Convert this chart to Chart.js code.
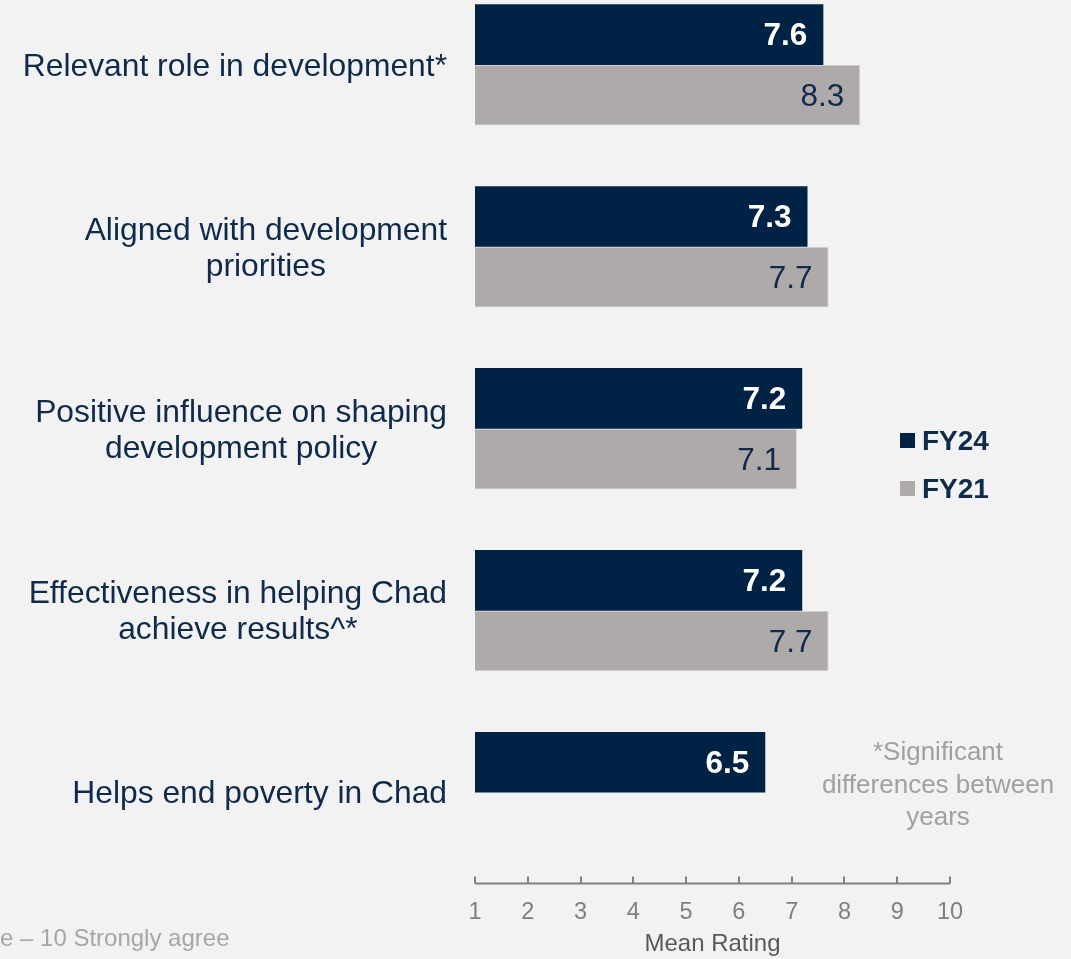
<!DOCTYPE html>
<html>
<head>
<meta charset="utf-8">
<script src="https://cdn.jsdelivr.net/npm/chart.js@4.4.0/dist/chart.umd.min.js"></script>
<style>
  html, body { margin: 0; padding: 0; background: #f2f2f2; overflow: hidden; }
  /* chart area starts above the visible page, as in the original slide crop */
  #wrap { position: absolute; left: 0; top: -26px; width: 1071px; height: 985px; }
</style>
</head>
<body>
<div id="wrap"><canvas id="chart"></canvas></div>
<script>
const categories = [
    ['Relevant role in development*'],
    ['Aligned with development', 'priorities'],
    ['Positive influence on shaping', 'development policy'],
    ['Effectiveness in helping Chad', 'achieve results^*'],
    ['Helps end poverty in Chad']
];
const seriesNames = ['FY24', 'FY21'];
const fy24 = [7.6, 7.3, 7.2, 7.2, 6.5];
const fy21 = [8.3, 7.7, 7.1, 7.7, null];
const xTicks = [1, 2, 3, 4, 5, 6, 7, 8, 9, 10];
const noteLines = ['*Significant', 'differences between', 'years'];
const footerText = 'e \u2013 10 Strongly agree';

const NAVY = '#002244';
const GREY = '#aeaaaa';
const TEXT_NAVY = '#0f2a4a';
const FONT = '"Liberation Sans", Arial, sans-serif';
const OFFSET = 26; // canvas is shifted up by this much

const overlay = {
    id: 'overlay',
    afterDatasetsDraw(chart) {
        const ctx = chart.ctx;
        const x = chart.scales.x;
        const y = chart.scales.y;
        const area = chart.chartArea;
        ctx.save();

        // value labels inside the bars
        chart.data.datasets.forEach((ds, i) => {
            const meta = chart.getDatasetMeta(i);
            meta.data.forEach((bar, j) => {
                if (ds.data[j] == null) return;
                ctx.font = (i === 0 ? 'bold ' : '') + '31.5px ' + FONT;
                ctx.fillStyle = i === 0 ? '#ffffff' : TEXT_NAVY;
                ctx.textAlign = 'right';
                ctx.textBaseline = 'middle';
                ctx.fillText(ds.data[j].toFixed(1), bar.x - 16, bar.y + 2);
            });
        });

        // category labels, centred lines, block right-aligned to the axis
        ctx.font = '31.8px ' + FONT;
        ctx.fillStyle = TEXT_NAVY;
        ctx.textAlign = 'center';
        ctx.textBaseline = 'middle';
        categories.forEach((lines, j) => {
            const cy = y.getPixelForValue(j) + 2;
            const w = Math.max(...lines.map(l => ctx.measureText(l).width));
            const cx = area.left - 28 - w / 2;
            lines.forEach((l, k) => {
                ctx.fillText(l, cx, cy + (k - (lines.length - 1) / 2) * 36);
            });
        });

        // x axis line with upward ticks
        ctx.strokeStyle = '#808080';
        ctx.lineWidth = 2;
        ctx.beginPath();
        ctx.moveTo(x.getPixelForValue(xTicks[0]), area.bottom);
        ctx.lineTo(x.getPixelForValue(xTicks[xTicks.length - 1]), area.bottom);
        xTicks.forEach(v => {
            const px = Math.round(x.getPixelForValue(v));
            ctx.moveTo(px, area.bottom);
            ctx.lineTo(px, area.bottom - 7);
        });
        ctx.stroke();

        // legend
        ctx.font = 'bold 28px ' + FONT;
        ctx.textAlign = 'left';
        [NAVY, GREY].forEach((c, i) => {
            const ly = 441 + i * 48 + OFFSET;
            ctx.fillStyle = c;
            ctx.fillRect(900, ly - 8, 15, 15);
            ctx.fillStyle = TEXT_NAVY;
            ctx.fillText(seriesNames[i], 922, ly + 1);
        });

        // note
        ctx.font = '26px ' + FONT;
        ctx.fillStyle = '#a0a0a0';
        ctx.textAlign = 'center';
        noteLines.forEach((l, k) => {
            ctx.fillText(l, 938, 753 + k * 32.5 + OFFSET);
        });

        // footer (cut off at the left edge in the original)
        ctx.font = '24px ' + FONT;
        ctx.fillStyle = '#a6a6a6';
        ctx.textAlign = 'left';
        ctx.fillText(footerText, 0, 939 + OFFSET);

        ctx.restore();
    }
};

new Chart(document.getElementById('chart'), {
    type: 'bar',
    data: {
        labels: categories,
        datasets: [{
            label: seriesNames[0],
            data: fy24,
            backgroundColor: NAVY,
            borderWidth: 0
        }, {
            label: seriesNames[1],
            data: fy21,
            backgroundColor: GREY,
            borderColor: '#d6d3d3',
            borderWidth: 1
        }]
    },
    options: {
        indexAxis: 'y',
        responsive: true,
        maintainAspectRatio: false,
        animation: false,
        layout: { padding: { left: 475, right: 121, top: 0, bottom: 0 } },
        datasets: { bar: { barPercentage: 1, categoryPercentage: 2 / 3 } },
        plugins: { legend: { display: false }, tooltip: { enabled: false } },
        scales: {
            y: { type: 'category', display: false, offset: true },
            x: {
                min: 1,
                max: 10,
                afterBuildTicks: scale => { scale.ticks = xTicks.map(v => ({ value: v })); },
                grid: { display: false, drawTicks: false },
                border: { display: false },
                ticks: {
                    padding: 15,
                    color: '#7f7f7f',
                    font: { family: FONT, size: 23.5 },
                    maxRotation: 0,
                    autoSkip: false
                },
                title: {
                    display: true,
                    text: 'Mean Rating',
                    color: '#595959',
                    font: { family: FONT, size: 24 },
                    padding: { top: -11.5, bottom: 0 }
                }
            }
        }
    },
    plugins: [overlay]
});
</script>
</body>
</html>
